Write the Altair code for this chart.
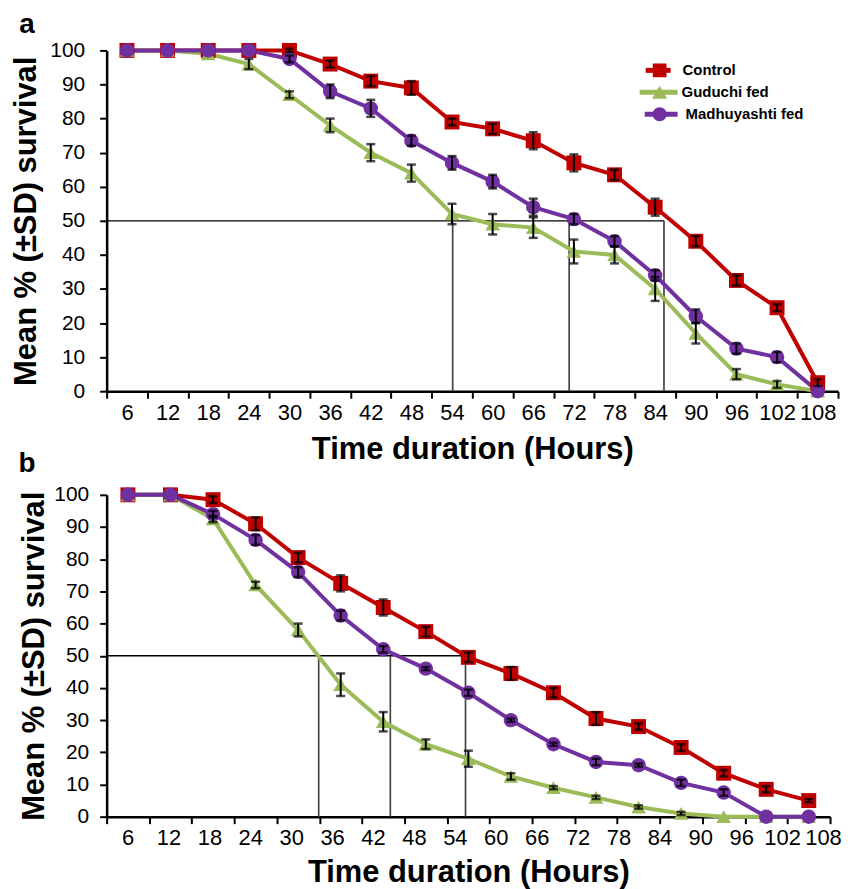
import altair as alt
import pandas as pd

# ---------------- data ----------------
series = ["Control", "Guduchi fed", "Madhuyashti fed"]
colors = ["#C00000", "#9BBB59", "#7030A0"]
shapes = ["square", "triangle-up", "circle"]
marker_sizes = [225, 210, 160]

tick_labels = ["6", "12", "18", "24", "30", "36", "42", "48", "54", "60",
               "66", "72", "78", "84", "90", "96", "102", "108"]

# panel a
hours_a = [6, 12, 18, 24, 30, 36, 42, 48, 54, 60, 66, 72, 78, 84, 90, 96, 102, 108]
control_a = [100, 100, 100, 100, 100, 96, 91, 89, 79, 77, 73.5, 67, 63.5, 54, 44, 32.5, 24.5, 2.5]
control_a_sd = [0, 0, 0, 0, 0.5, 1, 1.5, 2, 1, 1.5, 2.5, 2.5, 1.5, 2.5, 1.5, 1.5, 1, 1]
guduchi_a = [100, 100, 99, 96, 87, 78, 70, 64, 52, 49, 48, 41, 40, 30, 17, 5, 2, 0]
guduchi_a_sd = [0, 0, 0, 1.5, 1, 2, 2.5, 2.5, 3, 3, 3, 3.5, 2.5, 3.5, 3, 1.5, 1, 0]
madhu_a = [100, 100, 100, 100, 97.5, 88, 83, 73.5, 67, 61.5, 54, 50.5, 44, 34, 22, 12.5, 10, 0]
madhu_a_sd = [0, 0, 0, 0, 1, 2, 2.5, 1.5, 2, 2, 2.5, 1.5, 1.5, 1.5, 2, 1.5, 1.5, 0]
lt50_a = [54.1, 71.3, 85.3]

# panel b
hours_b = [6, 12, 18, 24, 30, 36, 42, 48, 54, 60, 66, 72, 78, 84, 90, 96, 102]
control_b = [100, 100, 98.5, 91, 80.5, 72.5, 65, 57.5, 49.5, 44.5, 38.5, 30.5, 28, 21.5, 13.5, 8.5, 5]
control_b_sd = [0, 0, 1, 2, 1.5, 2.5, 2.5, 1.5, 1.5, 2, 1.5, 2, 1, 1, 1, 1, 0.5]
guduchi_b = [100, 100, 92.5, 72, 58, 41, 29.5, 22.5, 18, 12.5, 9, 6, 3, 1, 0, 0, 0]
guduchi_b_sd = [0, 0, 1, 1, 2, 3.5, 3, 1.5, 2.5, 1, 0.5, 0.5, 0.5, 0.5, 0, 0, 0]
madhu_b = [100, 100, 94, 86, 76, 62.5, 52, 46, 38.5, 30, 22.5, 17, 16, 10.5, 7.5, 0, 0]
madhu_b_sd = [0, 0, 1, 1.5, 1.5, 1.5, 1, 0.5, 1, 0.5, 0.5, 1, 0.5, 1, 1, 0, 0]
lt50_b = [32.9, 43.0, 53.6]

FONT = "Liberation Sans"


def pos(h):
    return h / 6.0 - 0.5


def long_df(hours, vals, sds):
    rows = []
    for s, v, sd in zip(series, vals, sds):
        for h, y, e in zip(hours, v, sd):
            rows.append({"series": s, "pos": pos(h), "y": y, "lo": y - e, "hi": y + e, "sd": e})
    return pd.DataFrame(rows)


color_scale = alt.Scale(domain=series, range=colors)
shape_scale = alt.Scale(domain=series, range=shapes)
size_scale = alt.Scale(domain=series, range=marker_sizes)
lab_arr = "[" + ",".join("'%s'" % t for t in tick_labels) + "]"


def panel(hours, vals, sds, lt50, n_int, width, height, label_offset, title_pad, label_pad,
          x_title_pad, letters, with_legend):
    df = long_df(hours, vals, sds)
    xs = alt.Scale(domain=[0, n_int], nice=False, zero=False)
    ys = alt.Scale(domain=[0, 100], nice=False)
    x_axis = alt.Axis(values=list(range(0, n_int + 1)),
                      labelExpr="(%s)[datum.value] || ''" % lab_arr,
                      labelOffset=label_offset,
                      title="Time duration (Hours)", labelFont=FONT, labelFontSize=22,
                      labelPadding=4, titleFont=FONT, titleFontSize=31, titleFontWeight="bold",
                      titlePadding=x_title_pad, labelFlush=False, labelOverlap=False, labelBound=False)
    y_axis = alt.Axis(values=list(range(0, 101, 10)), title="Mean % (±SD) survival",
                      labelFont=FONT, labelFontSize=21, labelPadding=label_pad,
                      titleFont=FONT, titleFontSize=31, titleFontWeight="bold", titlePadding=title_pad)
    X = alt.X("pos:Q", scale=xs, axis=x_axis)
    Y = alt.Y("y:Q", scale=ys, axis=y_axis)

    ref = pd.DataFrame({"pos": [pos(v) for v in lt50], "y": [50] * len(lt50), "y0": [0] * len(lt50)})
    href = pd.DataFrame({"x0": [0], "x1": [max(ref["pos"])], "y": [50]})

    h_rule = alt.Chart(href).mark_rule(color="black", strokeWidth=1.3).encode(
        x=alt.X("x0:Q", scale=xs, axis=x_axis), x2="x1:Q", y=alt.Y("y:Q", scale=ys, axis=y_axis))
    v_rule = alt.Chart(ref).mark_rule(color="#444444", strokeWidth=1.7).encode(
        x=alt.X("pos:Q", scale=xs, axis=x_axis), y=alt.Y("y0:Q", scale=ys, axis=y_axis), y2="y:Q")

    lines = alt.Chart(df).mark_line(strokeWidth=4).encode(
        x=X, y=Y, color=alt.Color("series:N", scale=color_scale, legend=None), detail="series:N")

    pts = alt.Chart(df).mark_point(filled=True, opacity=1).encode(
        x=X, y=Y,
        color=alt.Color("series:N", scale=color_scale, legend=None),
        shape=alt.Shape("series:N", scale=shape_scale, legend=None),
        size=alt.Size("series:N", scale=size_scale, legend=None))

    edf = df[df["sd"] > 0]
    err = alt.Chart(edf).mark_rule(color="black", strokeWidth=2).encode(
        x=X, y=alt.Y("lo:Q", scale=ys, axis=y_axis), y2="hi:Q")
    cap_hi = alt.Chart(edf).mark_tick(color="black", orient="horizontal", size=9, thickness=2.5).encode(
        x=X, y=alt.Y("hi:Q", scale=ys, axis=y_axis))
    cap_lo = alt.Chart(edf).mark_tick(color="black", orient="horizontal", size=9, thickness=2.5).encode(
        x=X, y=alt.Y("lo:Q", scale=ys, axis=y_axis))

    layers = [h_rule, v_rule, lines, pts, err, cap_hi, cap_lo]

    for letter, ly in letters:
        lt = pd.DataFrame({"t": [letter]})
        layers.append(alt.Chart(lt).mark_text(font=FONT, fontSize=28, fontWeight="bold", align="center",
                                              baseline="middle", color="black").encode(
            text="t:N", x=alt.value(-80), y=alt.value(ly)))

    if with_legend:
        line_ext = [(541, 566), (535, 573), (540, 573)]
        text_x = [578, 577, 581]
        leg_sizes = [190, 230, 200]
        for i, (s, c, sh) in enumerate(zip(series, colors, shapes)):
            yy = 20 + 22 * i
            ldf = pd.DataFrame({"t": [s]})
            layers.append(alt.Chart(ldf).mark_rule(color=c, strokeWidth=5).encode(
                x=alt.value(line_ext[i][0]), x2=alt.value(line_ext[i][1]), y=alt.value(yy)))
            layers.append(alt.Chart(ldf).mark_point(filled=True, opacity=1, color=c, shape=sh,
                                                    size=leg_sizes[i]).encode(
                x=alt.value(555), y=alt.value(yy)))
            layers.append(alt.Chart(ldf).mark_text(font=FONT, fontSize=15, fontWeight="bold", align="left",
                                                   baseline="middle", color="black").encode(
                text="t:N", x=alt.value(text_x[i]), y=alt.value(yy)))

    return alt.layer(*layers).properties(width=width, height=height)


step_a = 734 / 18.0
panel_a = panel(hours_a, [control_a, guduchi_a, madhu_a], [control_a_sd, guduchi_a_sd, madhu_a_sd],
                lt50_a, 18, 734, 342,
                {"expr": "datum.value >= 18 ? -%.1f : %.1f" % (step_a / 2, step_a / 2)},
                7, 15, 12, [("a", -25), ("b", 415)], True)
panel_b = panel(hours_b, [control_b, guduchi_b, madhu_b], [control_b_sd, guduchi_b_sd, madhu_b_sd],
                lt50_b, 17, 726, 323, {"expr": "21 - 1.65*datum.value"}, 3, 11, 9, [], False)

chart = alt.vconcat(panel_a, panel_b, spacing=6).properties(
    padding={"left": 2, "top": 2, "right": 0, "bottom": 0}
).configure_view(stroke=None).configure_axis(
    domainColor="black", domainWidth=2.5, tickColor="black", tickWidth=2, tickSize=7,
    labelColor="black", titleColor="black", grid=False
)

chart.save("out.html", embed_options={"renderer": "svg", "actions": False})
